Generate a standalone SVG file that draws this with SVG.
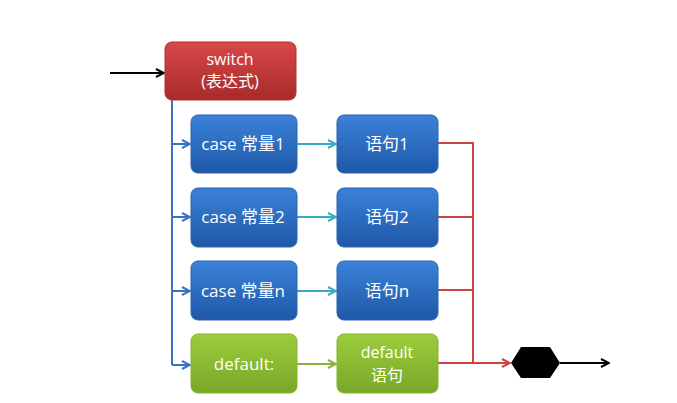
<svg xmlns="http://www.w3.org/2000/svg" width="677" height="403" viewBox="0 0 677 403">
<style>
  text { font-family: "Open Sans", "Noto Sans CJK SC", sans-serif; font-size: 17px; fill: #ffffff; text-anchor: middle; dominant-baseline: central; }
  .two { font-size: 16px; }
  .box { stroke-width: 1; }
  .red { fill: url(#gRed); stroke: #b03030; }
  .blue { fill: url(#gBlue); stroke: #2a63b0; }
  .green { fill: url(#gGreen); stroke: #86b42c; }
  .lb { stroke: #3a72c4; stroke-width: 2; fill: none; }
  .lt { stroke: #3aaac4; stroke-width: 2; fill: none; }
  .lg { stroke: #8ab03a; stroke-width: 2; fill: none; }
  .lr { stroke: #cc4444; stroke-width: 2; fill: none; }
  .lk { stroke: #000000; stroke-width: 2; fill: none; }
</style>
<defs>
  <linearGradient id="gRed" x1="0" y1="0" x2="0" y2="1">
    <stop offset="0" stop-color="#d84848"/>
    <stop offset="1" stop-color="#a82a2a"/>
  </linearGradient>
  <linearGradient id="gBlue" x1="0" y1="0" x2="0" y2="1">
    <stop offset="0" stop-color="#3a82d8"/>
    <stop offset="1" stop-color="#1f58a8"/>
  </linearGradient>
  <linearGradient id="gGreen" x1="0" y1="0" x2="0" y2="1">
    <stop offset="0" stop-color="#9ccc3c"/>
    <stop offset="1" stop-color="#78a828"/>
  </linearGradient>
  <marker id="aB" viewBox="0 0 10 10" refX="9" refY="5" markerWidth="5" markerHeight="5" orient="auto"><path d="M1,1 L9,5 L1,9" fill="none" stroke="#3a72c4" stroke-width="2"/></marker>
  <marker id="aT" viewBox="0 0 10 10" refX="9" refY="5" markerWidth="5" markerHeight="5" orient="auto"><path d="M1,1 L9,5 L1,9" fill="none" stroke="#3aaac4" stroke-width="2"/></marker>
  <marker id="aG" viewBox="0 0 10 10" refX="9" refY="5" markerWidth="5" markerHeight="5" orient="auto"><path d="M1,1 L9,5 L1,9" fill="none" stroke="#8ab03a" stroke-width="2"/></marker>
  <marker id="aR" viewBox="0 0 10 10" refX="9" refY="5" markerWidth="5" markerHeight="5" orient="auto"><path d="M1,1 L9,5 L1,9" fill="none" stroke="#cc4444" stroke-width="2"/></marker>
  <marker id="aK" viewBox="0 0 10 10" refX="9" refY="5" markerWidth="5" markerHeight="5" orient="auto"><path d="M1,1 L9,5 L1,9" fill="none" stroke="#000000" stroke-width="2"/></marker>
</defs>

<g id="connectors">
  <line class="lk" x1="110" y1="73" x2="164" y2="73" marker-end="url(#aK)"/>
  <path class="lb" d="M172,100 V365"/>
  <line class="lb" x1="172" y1="144" x2="190" y2="144" marker-end="url(#aB)"/>
  <line class="lb" x1="172" y1="217" x2="190" y2="217" marker-end="url(#aB)"/>
  <line class="lb" x1="172" y1="291" x2="190" y2="291" marker-end="url(#aB)"/>
  <line class="lb" x1="172" y1="365" x2="190" y2="365" marker-end="url(#aB)"/>
  <line class="lt" x1="297" y1="144" x2="336" y2="144" marker-end="url(#aT)"/>
  <line class="lt" x1="297" y1="217" x2="336" y2="217" marker-end="url(#aT)"/>
  <line class="lt" x1="297" y1="291" x2="336" y2="291" marker-end="url(#aT)"/>
  <line class="lg" x1="297" y1="364" x2="336" y2="364" marker-end="url(#aG)"/>
  <path class="lr" d="M438,143 H473 V363"/>
  <line class="lr" x1="438" y1="217" x2="473" y2="217"/>
  <line class="lr" x1="438" y1="290" x2="473" y2="290"/>
  <line class="lr" x1="438" y1="363" x2="510" y2="363" marker-end="url(#aR)"/>
  <line class="lk" x1="560" y1="363" x2="609" y2="363" marker-end="url(#aK)"/>
</g>

<g id="switch">
  <rect class="box red" x="165" y="42" width="131" height="58" rx="7"/>
  <text class="two" x="230" y="59">switch</text>
  <text class="two" x="230" y="81">(表达式)</text>
</g>
<g id="case1">
  <rect class="box blue" x="191" y="115" width="106" height="58" rx="7"/>
  <text x="243" y="143">case 常量1</text>
</g>
<g id="case2">
  <rect class="box blue" x="191" y="188" width="106" height="59" rx="7"/>
  <text x="243" y="216">case 常量2</text>
</g>
<g id="casen">
  <rect class="box blue" x="191" y="261" width="106" height="59" rx="7"/>
  <text x="243" y="290">case 常量n</text>
</g>
<g id="default">
  <rect class="box green" x="191" y="334" width="106" height="59" rx="7"/>
  <text x="244" y="363">default:</text>
</g>
<g id="stmt1">
  <rect class="box blue" x="337" y="115" width="101" height="58" rx="7"/>
  <text x="387" y="143">语句1</text>
</g>
<g id="stmt2">
  <rect class="box blue" x="337" y="188" width="101" height="59" rx="7"/>
  <text x="387" y="216">语句2</text>
</g>
<g id="stmtn">
  <rect class="box blue" x="337" y="261" width="101" height="59" rx="7"/>
  <text x="387" y="290">语句n</text>
</g>
<g id="stmtdefault">
  <rect class="box green" x="337" y="334" width="101" height="59" rx="7"/>
  <text class="two" x="387" y="352">default</text>
  <text class="two" x="387" y="375">语句</text>
</g>
<g id="end">
  <polygon points="511,363 521,347 550,347 560,363 550,378 521,378" fill="#000000"/>
</g>
</svg>
